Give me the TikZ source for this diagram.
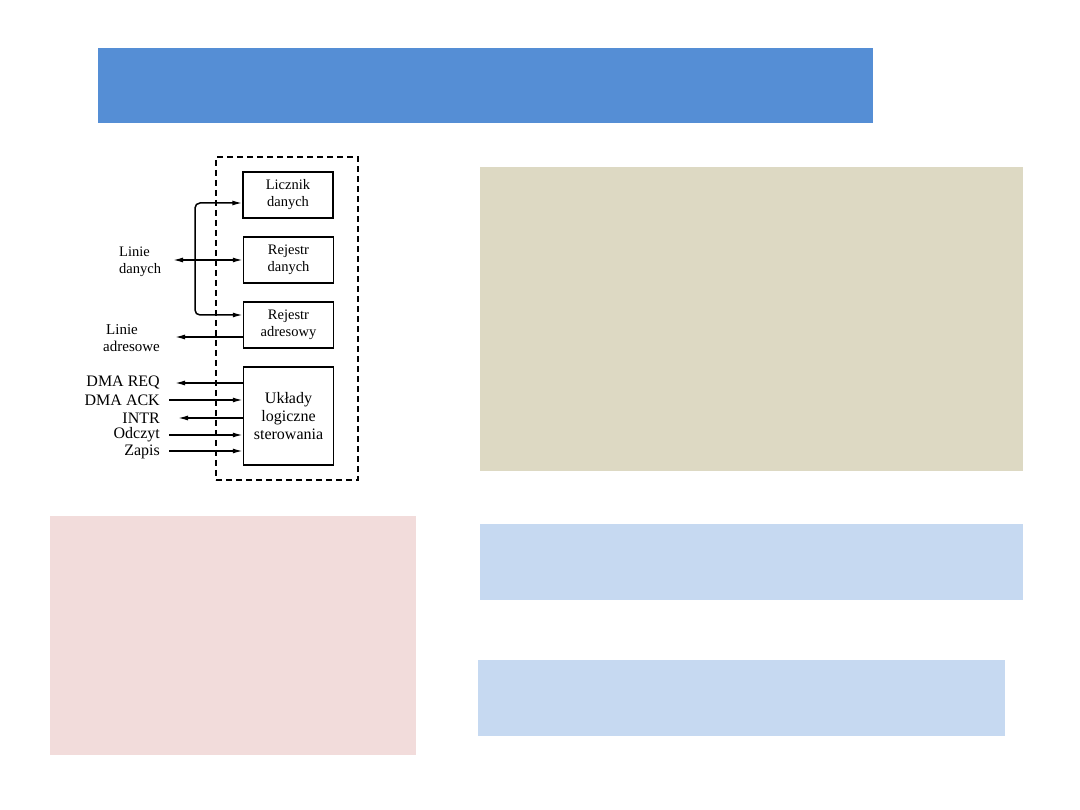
\documentclass[tikz,border=0pt]{standalone}
\usepackage{fontspec}
\setmainfont{Liberation Serif}
\usetikzlibrary{arrows.meta}
\definecolor{titleblue}{HTML}{558ED5}
\definecolor{beige}{HTML}{DDD9C3}
\definecolor{pinkbox}{HTML}{F2DCDB}
\definecolor{lightblue}{HTML}{C6D9F1}
\begin{document}
\begin{tikzpicture}[x=1pt,y=-1pt,
  blk/.style={draw, line width=1.3pt, minimum width=90pt, minimum height=46pt, inner sep=0pt, align=center, font=\fontsize{14.5}{17}\selectfont},
  tip/.style={Latex[length=10pt,width=5pt]},
  arr/.style={line width=1.5pt, -{Latex[length=10pt,width=5pt]}},
  lbl/.style={font=\fontsize{16}{17.5}\selectfont, inner sep=0pt, anchor=east},
  slbl/.style={font=\fontsize{14.5}{17.5}\selectfont, inner sep=0pt, anchor=west, align=left}]
\useasboundingbox (0,0) rectangle (1080,810);
\fill[white] (0,0) rectangle (1080,810);
% panels
\fill[titleblue] (98,48) rectangle (873,123);
\fill[beige] (480,167) rectangle (1023,471);
\fill[pinkbox] (50,516) rectangle (416,755);
\fill[lightblue] (480,524) rectangle (1023,600);
\fill[lightblue] (478,660) rectangle (1005,736);
% dashed frame
\node[draw, dashed, dash pattern=on 6pt off 4pt, line width=1.4pt, minimum width=142pt, minimum height=323pt, inner sep=0pt] (frame) at (287,318.5) {};
% blocks
\node[blk] (lic) at (288,195) {Licznik\\danych};
\node[blk] (rd) at (288.5,260) {Rejestr\\danych};
\node[blk] (adr) at (288.5,325) {Rejestr\\adresowy};
\node[blk, minimum height=98pt, font=\fontsize{16}{18}\selectfont] (ul) at (288.5,416) {Układy\\logiczne\\sterowania};
% bus
\coordinate (busT) at (195,203);
\coordinate (busM) at (195,260);
\coordinate (busB) at (195,315);
\coordinate (dataL) at (173,260);
\draw[arr, rounded corners=5pt] (busM) -- (busT) -- (lic.west |- busT);
\draw[arr, rounded corners=5pt] (busM) -- (busB) -- (adr.west |- busB);
\draw[line width=1.5pt, {Latex[length=10pt,width=5pt]}-{Latex[length=10pt,width=5pt]}] (dataL) -- (rd.west);
% address lines
\coordinate (adrL) at (175,337);
\draw[arr] (adr.west |- adrL) -- (adrL);
% control lines
\coordinate (reqL) at (175,383);
\coordinate (ackL) at (169,400);
\coordinate (intL) at (178,418);
\coordinate (odcL) at (169,435);
\coordinate (zapL) at (169,451);
\draw[arr] (ul.west |- reqL) -- (reqL);
\draw[arr] (ackL) -- (ul.west |- ackL);
\draw[arr] (ul.west |- intL) -- (intL);
\draw[arr] (odcL) -- (ul.west |- odcL);
\draw[arr] (zapL) -- (ul.west |- zapL);
% labels
\node[slbl] (ldan) at (119,262) {Linie\\danych};
\node[slbl, font=\fontsize{15}{17.5}\selectfont] (ladr) at (103,338) {\hspace*{3pt}Linie\\adresowe};
\node[lbl] (treq) at (160,383) {DMA REQ};
\node[lbl] (tack) at (160,400) {DMA ACK};
\node[lbl] (tint) at (160,418) {INTR};
\node[lbl] (todc) at (160,435) {Odczyt};
\node[lbl] (tzap) at (160,452) {Zapis};
\end{tikzpicture}
\end{document}
